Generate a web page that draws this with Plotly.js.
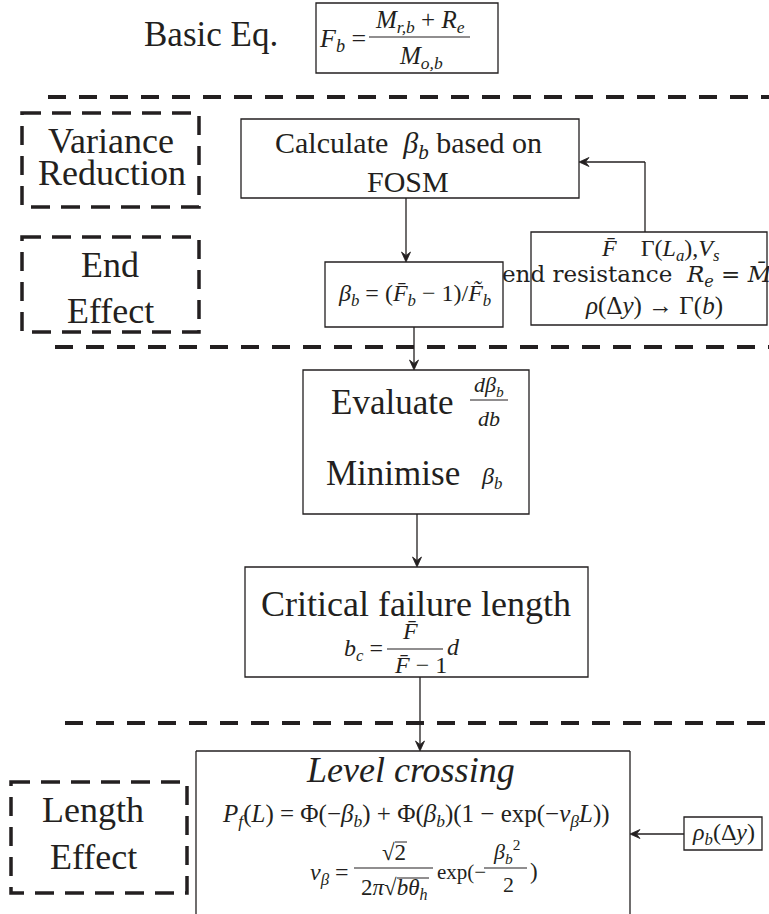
<!DOCTYPE html>
<html>
<head>
<meta charset="utf-8">
<script src="https://cdn.plot.ly/plotly-3.0.1.min.js"></script>
<style>
  html, body { margin: 0; padding: 0; background: #ffffff; }
  #chart { width: 769px; height: 914px; }
</style>
</head>
<body>
<div id="chart"></div>
<script>
// ---- content (text of the flowchart) ----
const headerLabels = ["Basic Eq."];
const basicEq = ["<i>F</i><sub><i>b</i></sub> =", "<i>M</i><sub><i>r,b</i></sub> + <i>R</i><sub><i>e</i></sub>", "<i>M</i><sub><i>o,b</i></sub>"];
const sideLabels = [["Variance", "Reduction"], ["End", "Effect"], ["Length", "Effect"]];
const calcLabels = ["Calculate\u00a0 <i>β</i><sub><i>b</i></sub> based on", "FOSM"];
const betaLabel = ["<i>β</i><sub><i>b</i></sub> = (<i>F\u0304</i><sub><i>b</i></sub> − 1)/<i>F\u0303</i><sub><i>b</i></sub>"];
const inputLabels = [
  "<i>F\u0304</i>\u00a0\u00a0\u00a0 Γ(<i>L</i><sub><i>a</i></sub>),<i>V</i><sub><i>s</i></sub>",
  "end resistance\u00a0 <i>R</i><sub><i>e</i></sub> = <i>M\u0304</i><sub><i>r</i></sub><i>d</i>",
  "<i>ρ</i>(Δ<i>y</i>) → Γ(<i>b</i>)"
];
const evalLabels = ["Evaluate", "<i>dβ</i><sub><i>b</i></sub>", "<i>db</i>", "Minimise", "<i>β</i><sub><i>b</i></sub>"];
const critLabels = ["Critical failure length", "<i>b</i><sub><i>c</i></sub> =", "<i>F\u0304</i>", "<i>F\u0304</i> − 1", "<i>d</i>"];
const levelLabels = [
  "Level crossing",
  "<i>P</i><sub><i>f</i></sub>(<i>L</i>) = Φ(−<i>β</i><sub><i>b</i></sub>) + Φ(<i>β</i><sub><i>b</i></sub>)(1 − exp(−<i>ν</i><sub><i>β</i></sub><i>L</i>))",
  "<i>ν</i><sub><i>β</i></sub> =", "√2", "2<i>π</i>√<i>bθ</i><sub><i>h</i></sub>", "exp(−", "<i>β</i><sub><i>b</i></sub><sup>2</sup>", "2", ")"
];
const rhoLabel = ["<i>ρ</i><sub><i>b</i></sub>(Δ<i>y</i>)"];

// ---- drawing helpers ----
const FONT = "Liberation Serif";
const INK = "#231f20";
const shapes = [];
const annotations = [];

function rect(x0, y0, x1, y1, w, dash) {
  shapes.push({type: "rect", xref: "x", yref: "y", x0: x0, y0: y0, x1: x1, y1: y1,
    line: {color: INK, width: w || 1.3, dash: dash || "solid"}, fillcolor: "rgba(0,0,0,0)"});
}
function seg(x0, y0, x1, y1, w, dash) {
  shapes.push({type: "line", xref: "x", yref: "y", x0: x0, y0: y0, x1: x1, y1: y1,
    line: {color: INK, width: w || 1.3, dash: dash || "solid"}});
}
function txt(x, y, s, size, xanchor, fam) {
  annotations.push({x: x, y: y, xref: "x", yref: "y", text: s,
    showarrow: false, xanchor: xanchor || "center", yanchor: "middle",
    font: {family: fam || FONT, size: size, color: INK}});
}
function arrow(x0, y0, x1, y1) {
  const dx = x1 - x0, dy = y1 - y0, L = Math.hypot(dx, dy);
  const ux = dx / L, uy = dy / L, px = -uy, py = ux;
  const len = 10, half = 4.5, notch = 3.5;
  const bx = x1 - ux * len, by = y1 - uy * len;
  const nx = x1 - ux * (len - notch), ny = y1 - uy * (len - notch);
  seg(x0, y0, nx, ny, 1.3);
  const p = "M" + x1 + "," + y1 +
    " L" + (bx + px * half) + "," + (by + py * half) +
    " L" + nx + "," + ny +
    " L" + (bx - px * half) + "," + (by - py * half) + " Z";
  shapes.push({type: "path", xref: "x", yref: "y", path: p, fillcolor: INK, line: {color: INK, width: 0.8}});
}

const DASH_LINE = "18px,13px";
const DASH_BOX = "19px,11px";

// header
txt(211, 34, headerLabels[0], 35, "center", "Times New Roman");
rect(316, 3, 498, 73, 1.3);
txt(368, 40, basicEq[0], 26, "right");
txt(420, 21, basicEq[1], 25);
seg(369, 37, 470, 37, 1.2);
txt(421, 57, basicEq[2], 25);

// dashed separators
seg(48, 97, 769, 97, 4, DASH_LINE);
seg(55, 347, 769, 347, 4, DASH_LINE);
seg(65, 723, 769, 723, 4, DASH_LINE);

// side dashed boxes
rect(22, 113, 199, 207, 3.5, DASH_BOX);
txt(111, 141, sideLabels[0][0], 36, "center", "Tinos");
txt(112, 173, sideLabels[0][1], 36, "center", "Tinos");
rect(22, 237, 199, 332, 3.5, DASH_BOX);
txt(110, 265, sideLabels[1][0], 36, "center", "serif");
txt(110, 311, sideLabels[1][1], 36, "center", "serif");
rect(11, 782, 187, 893, 3.5, DASH_BOX);
txt(93, 810, sideLabels[2][0], 36, "center", "Times");
txt(93, 857, sideLabels[2][1], 36, "center", "Times");

// calculate box
rect(241, 119, 579, 198);
txt(408, 145, calcLabels[0], 30);
txt(408, 181, calcLabels[1], 30, "center", "'Liberation Serif'");

// beta box
rect(325, 262, 503, 327);
txt(414, 295, betaLabel[0], 24);

// input box (right)
rect(531, 232, 767, 325);
txt(660, 250, inputLabels[0], 24);
txt(648, 276, inputLabels[1], 23, "center", "DejaVu Serif");
txt(654, 306, inputLabels[2], 25);

// evaluate box
rect(303, 370, 529, 514);
txt(392, 402, evalLabels[0], 35, "center", "Liberation Serif, serif");
txt(489, 386, evalLabels[1], 22);
seg(470, 400, 508, 400, 1.2);
txt(489, 418, evalLabels[2], 22);
txt(393, 473, evalLabels[3], 35, "center", "Nimbus Roman");
txt(491, 478, evalLabels[4], 24);

// critical box
rect(245, 567, 588, 677);
txt(416, 604, critLabels[0], 36);
txt(385, 650, critLabels[1], 24, "right");
txt(410, 631, critLabels[2], 24);
seg(387, 649, 443, 649, 1.2);
txt(420, 665, critLabels[3], 24);
txt(445, 647, critLabels[4], 24, "left");

// level crossing box (open at bottom of picture)
seg(196, 751, 630, 751);
seg(196, 751, 196, 914);
seg(630, 751, 630, 914);
txt(410, 770, "<i>Level crossing</i>", 36);
txt(416, 815, levelLabels[1], 25);
txt(351, 874, levelLabels[2], 24, "right");
txt(394, 852, levelLabels[3], 23);
seg(395, 842, 407, 842, 1.0);
seg(354, 868, 433, 868, 1.2);
txt(394, 889, levelLabels[4], 23);
seg(397, 878, 429, 878, 1.0);
txt(435, 872, levelLabels[5], 21, "left");
txt(506, 851, levelLabels[6], 22);
seg(484, 868, 527, 868, 1.2);
txt(508, 884, levelLabels[7], 22);
txt(528, 871, levelLabels[8], 23, "left");

// rho box
rect(684, 817, 762, 850);
txt(723, 834, rhoLabel[0], 24);

// arrows
arrow(406, 198, 406, 262);
arrow(414, 327, 414, 370);
arrow(417, 514, 417, 567);
arrow(420, 677, 420, 751);
seg(645, 232, 645, 162);
arrow(645, 162, 579, 162);
arrow(684, 834, 630, 834);

const layout = {
  width: 769, height: 914,
  margin: {l: 0, r: 0, t: 0, b: 0, pad: 0},
  paper_bgcolor: "#ffffff", plot_bgcolor: "#ffffff",
  showlegend: false,
  xaxis: {range: [0, 769], visible: false, fixedrange: true},
  yaxis: {range: [914, 0], visible: false, fixedrange: true},
  shapes: shapes,
  annotations: annotations
};

Plotly.newPlot("chart", [], layout, {displayModeBar: false});
</script>
</body>
</html>
